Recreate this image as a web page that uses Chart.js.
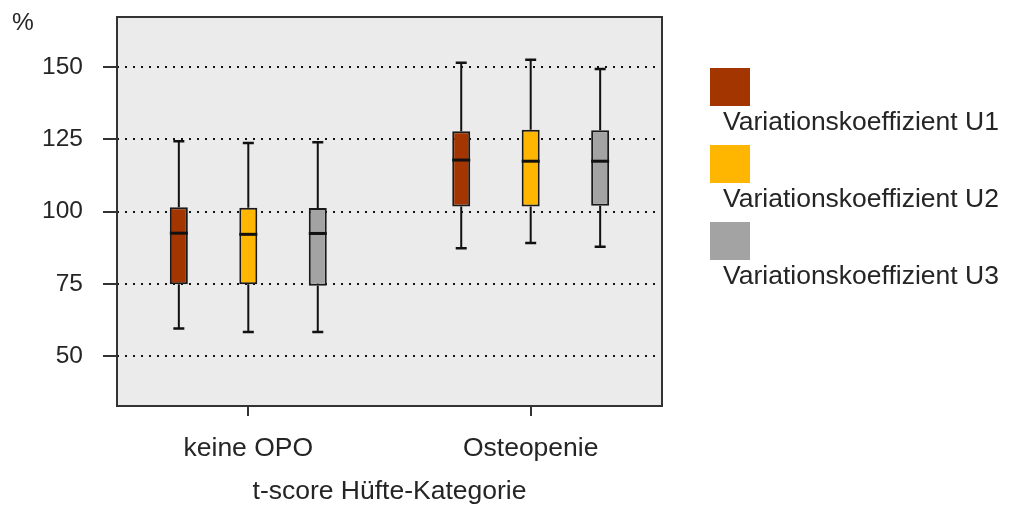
<!DOCTYPE html>
<html>
<head>
<meta charset="utf-8">
<script src="https://cdn.jsdelivr.net/npm/chart.js@4.4.1/dist/chart.umd.min.js"></script>
<style>
  body { margin: 0; background: #fff; }
  #wrap { width: 1014px; height: 510px; }
</style>
</head>
<body>
<div id="wrap"><canvas id="boxChart" width="1014" height="510"></canvas></div>
<script>
// Kategorien und Reihen
const categories = ["keine OPO", "Osteopenie"];
const seriesLabels = ["Variationskoeffizient U1", "Variationskoeffizient U2", "Variationskoeffizient U3"];
const seriesColors = ["#A33600", "#FFB600", "#A3A3A3"];

// je Kategorie: [min, q1, median, q3, max]
const u1 = [[59.5, 74.8, 92.5, 101.5, 124.3], [87.3, 101.7, 117.8, 127.8, 151.5]];
const u2 = [[58.3, 74.8, 92.1, 101.3, 123.7], [89.1, 101.7, 117.4, 128.3, 152.5]];
const u3 = [[58.3, 74.3, 92.4, 101.2, 124.0], [87.8, 102.0, 117.4, 128.1, 149.3]];
const allSeries = [u1, u2, u3];

const yTicks = [50, 75, 100, 125, 150];
const yMin = 32.7;
const yMax = 167.3;

const textColor = "#252525";
const fontFamily = "'Liberation Sans', Arial, sans-serif";

// Hintergrund, Rahmen, "%" und Legende
const plotFrame = {
  id: "plotFrame",
  beforeDraw(chart) {
    const { ctx, chartArea: a } = chart;
    ctx.save();
    ctx.fillStyle = "#EBEBEB";
    ctx.fillRect(a.left, a.top, a.right - a.left, a.bottom - a.top);
    ctx.restore();
  },
  afterDraw(chart) {
    const { ctx, chartArea: a } = chart;
    ctx.save();
    ctx.strokeStyle = "#333";
    ctx.lineWidth = 2;
    ctx.strokeRect(a.left, a.top, a.right - a.left, a.bottom - a.top);

    ctx.fillStyle = textColor;
    ctx.font = "24.5px " + fontFamily;
    ctx.textAlign = "left";
    ctx.textBaseline = "middle";
    ctx.fillText("%", 12, a.top + 6);

    // Legende: Farbfeld oben, Text darunter
    ctx.font = "26.5px " + fontFamily;
    ctx.textBaseline = "alphabetic";
    seriesLabels.forEach((label, i) => {
      const top = a.top + 51 + i * 77;
      ctx.fillStyle = seriesColors[i];
      ctx.fillRect(a.right + 48, top, 40, 38);
      ctx.fillStyle = textColor;
      ctx.fillText(label, a.right + 61, top + 62);
    });
    ctx.restore();
  },
};

// Whisker und Median über die Skalen
const boxExtras = {
  id: "boxExtras",
  afterDatasetsDraw(chart) {
    const { ctx } = chart;
    const y = chart.scales.y;
    ctx.save();
    ctx.strokeStyle = "#111";
    allSeries.forEach((series, i) => {
      const meta = chart.getDatasetMeta(i);
      meta.data.forEach((bar, j) => {
        const { x, width } = bar.getProps(["x", "width"], true);
        const [mn, q1, med, q3, mx] = series[j];
        ctx.lineWidth = 2;
        ctx.beginPath();
        ctx.moveTo(x, y.getPixelForValue(q3));
        ctx.lineTo(x, y.getPixelForValue(mx));
        ctx.moveTo(x, y.getPixelForValue(q1));
        ctx.lineTo(x, y.getPixelForValue(mn));
        ctx.stroke();
        ctx.lineWidth = 2.5;
        ctx.beginPath();
        ctx.moveTo(x - 5.5, y.getPixelForValue(mx));
        ctx.lineTo(x + 5.5, y.getPixelForValue(mx));
        ctx.moveTo(x - 5.5, y.getPixelForValue(mn));
        ctx.lineTo(x + 5.5, y.getPixelForValue(mn));
        ctx.stroke();
        ctx.lineWidth = 3;
        ctx.beginPath();
        ctx.moveTo(x - width / 2, y.getPixelForValue(med));
        ctx.lineTo(x + width / 2, y.getPixelForValue(med));
        ctx.stroke();
      });
    });
    ctx.restore();
  },
};

const datasets = allSeries.map((series, i) => ({
  label: seriesLabels[i],
  data: series.map((s) => [s[1], s[3]]),
  backgroundColor: seriesColors[i],
  borderColor: "#1a1a1a",
  borderWidth: 2,
  borderSkipped: false,
  categoryPercentage: 0.738,
  barPercentage: 0.259,
}));

new Chart(document.getElementById("boxChart"), {
  type: "bar",
  data: {
    labels: categories.map((_, i) => i),
    datasets: datasets,
  },
  options: {
    responsive: false,
    animation: false,
    layout: { padding: { top: 17, right: 352, left: 0, bottom: 0 } },
    plugins: {
      legend: { display: false },
      tooltip: { enabled: false },
    },
    scales: {
      x: {
        type: "linear",
        min: -0.465,
        max: 1.465,
        offset: false,
        afterBuildTicks: (scale) => {
          scale.ticks = categories.map((_, i) => ({ value: i }));
        },
        afterFit: (scale) => {
          scale.height = 104;
          scale.paddingLeft = 0;
          scale.paddingRight = 0;
        },
        grid: {
          offset: false,
          drawOnChartArea: false,
          drawTicks: true,
          tickLength: 10,
          color: "#333",
          lineWidth: 2,
        },
        border: { display: false },
        ticks: {
          autoSkip: false,
          maxRotation: 0,
          padding: 17,
          color: textColor,
          font: { family: fontFamily, size: 26.5 },
          callback: (v) => categories[v],
        },
        title: {
          display: true,
          text: "t-score Hüfte-Kategorie",
          color: textColor,
          font: { family: fontFamily, size: 26.5 },
          padding: { top: 0, bottom: 2 },
        },
      },
      y: {
        min: yMin,
        max: yMax,
        afterBuildTicks: (scale) => {
          scale.ticks = yTicks.map((v) => ({ value: v }));
        },
        afterFit: (scale) => {
          scale.width = 117;
          scale.paddingTop = 0;
          scale.paddingBottom = 0;
        },
        grid: {
          color: "#111",
          lineWidth: 2,
          tickLength: 14,
          tickColor: "#333",
          tickBorderDash: [],
        },
        border: { display: false, dash: [2, 6] },
        ticks: {
          padding: 20,
          color: textColor,
          font: { family: fontFamily, size: 24.5 },
        },
      },
    },
  },
  plugins: [plotFrame, boxExtras],
});
</script>
</body>
</html>
